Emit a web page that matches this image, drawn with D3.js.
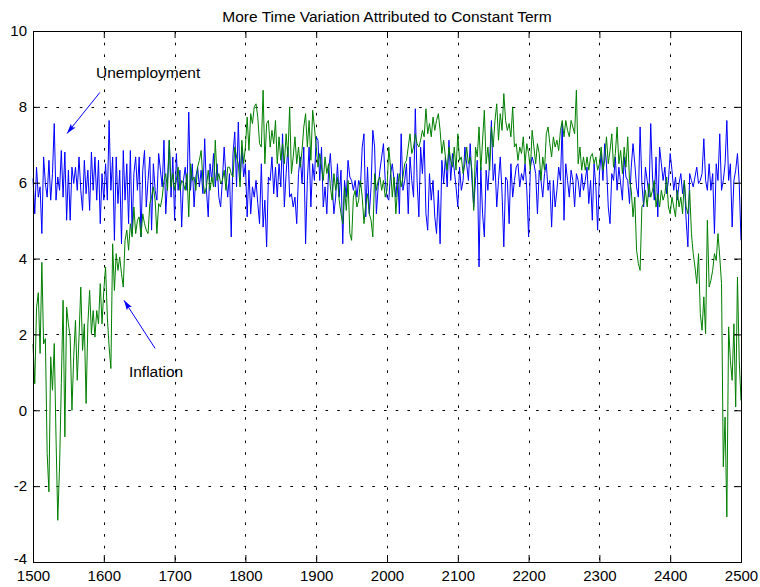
<!DOCTYPE html>
<html><head><meta charset="utf-8">
<script src="https://cdn.jsdelivr.net/npm/d3@7"></script>
<style>
body{margin:0;background:#fff}
svg text{font-family:"Liberation Sans",Arial,Helvetica,sans-serif}
</style>
</head><body>
<svg id="chart" width="760" height="587"></svg>
<script>
// ---- data (one value every 2.5 years starting at 1500) ----
const startYear = 1500;
const stepYears = 2.5;
const unemployment = [
  6.11,5.18,6.41,5.62,5.89,4.66,6.68,5.98,5.62,6.59,
  5.54,6.24,7.56,5.54,6.15,5.80,6.85,5.62,6.81,5.01,
  6.33,5.01,6.41,5.98,6.41,5.80,6.68,5.80,5.27,6.59,
  5.71,6.33,5.27,6.81,5.80,6.68,5.54,6.59,4.92,6.24,
  5.54,6.50,5.54,7.64,5.80,6.68,4.48,6.68,5.45,6.33,
  4.39,6.85,5.54,6.50,4.92,6.85,4.66,6.24,6.68,5.80,
  6.68,4.57,6.33,6.85,5.36,6.06,6.68,4.75,6.50,5.80,
  5.54,6.77,6.33,5.89,7.12,5.18,6.06,7.12,5.62,6.68,
  5.01,6.77,5.80,6.33,4.83,6.06,6.41,5.80,7.86,5.80,
  6.50,5.36,6.15,6.41,5.89,6.33,5.71,7.16,5.80,5.10,
  6.50,6.06,6.77,5.89,6.50,5.62,5.36,6.06,6.94,6.15,
  5.62,6.24,4.57,6.77,7.34,5.89,7.60,6.06,6.94,6.15,
  6.50,5.10,6.33,5.18,5.89,5.62,6.06,5.45,4.92,6.50,
  4.83,5.54,4.31,6.15,6.06,6.68,5.71,6.41,5.62,6.50,
  5.89,7.29,5.36,6.24,6.94,5.62,5.71,5.36,5.62,4.92,
  6.24,6.68,5.98,6.94,4.39,6.06,6.94,5.36,6.50,6.06,
  7.21,7.12,6.06,6.94,5.36,5.89,5.18,6.33,6.77,5.98,
  5.18,5.62,6.50,5.62,6.33,4.39,6.06,5.62,6.59,6.15,
  6.06,5.80,6.06,5.62,6.06,5.89,6.94,7.29,5.10,6.41,
  5.18,5.89,7.38,6.94,5.18,5.89,6.33,6.68,7.03,6.06,
  5.62,5.54,6.24,6.50,6.06,5.62,6.24,5.18,7.29,5.80,
  6.06,6.50,5.18,6.68,6.06,5.62,7.95,6.06,5.10,6.94,
  6.24,7.12,5.18,4.75,6.24,5.54,6.06,5.10,4.66,5.80,
  4.39,6.59,5.98,6.68,5.89,7.12,6.06,6.77,6.33,5.89,
  5.36,6.41,5.80,6.06,6.94,6.50,6.06,7.03,6.06,5.36,
  6.06,6.59,3.78,6.41,5.18,4.57,6.33,5.80,6.59,7.64,
  6.06,6.50,5.36,6.06,6.68,5.71,4.31,6.15,6.06,4.92,
  6.50,5.62,6.06,6.41,6.50,5.89,6.24,6.06,6.50,5.80,
  4.57,6.41,6.68,6.50,6.24,5.18,6.33,6.06,5.62,6.24,
  6.50,5.80,6.06,4.83,6.06,5.36,5.80,6.41,6.06,7.56,
  5.01,6.50,6.06,5.62,6.33,6.06,5.36,6.24,6.06,5.62,
  6.24,5.80,6.06,6.41,5.45,6.06,5.01,6.50,5.89,4.75,
  6.24,6.77,6.06,7.03,6.50,5.36,4.92,6.24,6.06,6.68,
  5.80,6.41,5.98,5.54,6.68,6.15,6.06,5.45,6.41,7.03,
  6.50,5.89,5.62,7.47,5.98,5.36,6.41,6.06,5.62,7.56,
  6.15,5.54,6.68,5.10,6.94,6.50,6.06,6.41,5.71,6.06,
  6.77,6.33,5.80,6.15,5.54,5.98,6.24,5.71,6.06,5.01,
  4.31,6.24,6.06,5.89,6.15,6.41,5.98,6.06,6.24,7.16,
  6.06,5.80,6.50,5.80,6.24,4.66,6.50,6.06,7.29,5.80,
  6.06,6.50,7.64,6.06,6.50,4.83,6.06,6.33,6.77,5.98,
  4.48
];
const inflation = [
  1.75,0.7,2.7,3.1,1.5,3.9,1.75,1.89,-1.14,-2.15,
  1.41,0.53,1.76,-0.7,-2.9,-1.49,0.7,2.9,-0.7,2.72,
  2.28,1.93,0.0,1.41,2.37,0.79,1.93,3.25,1.58,2.28,
  0.18,2.28,3.16,2.02,2.63,1.93,2.63,2.28,3.34,2.28,
  3.16,3.78,2.46,1.67,1.1,4.39,3.16,4.13,3.69,4.04,
  3.60,3.25,4.48,4.75,4.22,4.92,4.57,5.36,4.66,5.01,
  5.1,4.57,5.18,4.92,4.75,4.66,5.45,5.62,5.89,5.54,
  4.66,5.45,5.36,5.62,6.06,6.24,5.80,7.12,5.89,6.24,
  5.80,6.06,6.41,5.80,6.06,5.98,5.80,6.24,5.10,6.50,
  6.06,6.15,5.80,6.41,6.59,6.85,6.06,5.71,5.89,6.33,
  5.80,6.15,5.89,7.12,6.06,6.24,5.98,6.06,6.33,5.80,
  6.41,6.41,6.24,6.15,6.94,6.68,6.50,5.89,7.12,6.50,
  6.94,7.73,6.85,7.82,7.56,8.0,8.08,7.73,7.03,6.94,
  8.44,6.50,7.56,7.64,6.94,7.38,7.03,7.64,6.50,7.21,
  6.59,7.03,6.50,7.29,6.68,8.0,6.24,6.68,7.21,6.50,
  6.94,6.41,6.85,7.47,7.82,6.94,7.64,6.59,7.91,7.47,
  6.94,6.41,6.77,6.41,6.06,6.68,6.24,6.50,5.89,5.54,
  6.24,5.80,6.15,5.54,5.18,4.92,5.89,5.27,6.06,4.66,
  4.48,5.62,5.80,5.36,5.54,6.06,5.62,4.92,5.45,5.71,
  5.18,5.01,4.57,6.24,5.80,6.06,6.15,5.80,6.06,5.62,
  5.80,6.94,6.41,5.62,6.15,5.18,5.89,6.24,5.89,6.15,
  6.50,6.59,6.94,7.29,6.77,6.94,7.29,7.03,6.94,7.12,
  7.38,7.21,7.95,7.29,7.56,7.21,7.73,7.38,7.64,7.82,
  7.38,6.77,7.12,6.68,6.33,6.94,6.59,6.41,6.94,6.33,
  7.29,6.59,6.68,6.24,6.50,6.94,6.50,6.68,6.33,5.27,
  6.94,6.68,7.47,6.33,7.12,7.91,6.50,6.94,6.33,7.47,
  6.94,7.64,8.08,7.12,7.82,7.38,8.35,7.64,7.38,7.56,
  7.21,8.0,6.94,7.03,6.59,6.94,6.77,7.21,6.50,7.03,
  6.77,6.33,7.38,6.94,6.50,7.03,6.77,6.06,6.68,6.33,
  7.29,7.47,7.03,6.68,7.21,6.94,7.12,6.85,7.38,7.64,
  7.21,7.64,7.38,7.21,7.64,7.47,7.29,8.44,6.50,6.94,
  6.33,6.68,6.33,6.68,6.33,6.68,6.77,6.50,6.68,6.33,
  6.50,6.94,6.33,6.59,7.21,6.50,6.85,7.29,6.41,6.77,
  7.47,6.50,6.85,6.24,6.94,6.41,7.21,6.06,5.80,5.10,
  5.62,4.22,3.87,3.69,5.36,5.45,5.80,5.36,5.98,5.62,
  5.80,6.06,5.36,5.71,5.36,5.80,5.54,5.71,6.15,5.36,
  5.18,5.62,5.36,5.10,5.80,5.36,5.62,5.18,6.06,5.36,
  5.18,5.80,4.66,4.13,3.78,3.34,4.13,2.55,2.11,2.99,
  2.02,5.01,3.25,3.43,3.69,4.13,3.95,4.66,4.04,3.34,
  -1.49,-0.18,-2.81,2.20,1.32,0.79,2.28,0.09,3.51,1.32,
  0.26
];
const xTicks = [1500,1600,1700,1800,1900,2000,2100,2200,2300,2400,2500];
const yTicks = [-4,-2,0,2,4,6,8,10];
const xDomain = [1500, 2500];
const yDomain = [-4, 10];
const titleText = "More Time Variation Attributed to Constant Term";
const seriesNames = ["Unemployment", "Inflation"];

// annotation anchors in data units: label position, arrow tail, arrow head
const notes = [
  {text: seriesNames[0], at: [1589, 8.75], from: [1594.5, 8.38], to: [1548, 7.30]},
  {text: seriesNames[1], at: [1635.5, 0.87], from: [1672.5, 1.63], to: [1628.5, 2.90]}
];

// ---- layout ----
const W = 760, H = 587;
const M = {left: 33, right: 19, top: 31, bottom: 25};
const iw = W - M.left - M.right, ih = H - M.top - M.bottom;
const FS = 15;

const svg = d3.select("#chart");
svg.append("rect").attr("width", W).attr("height", H).attr("fill", "#fff");

const x = d3.scaleLinear().domain(xDomain).range([M.left, M.left + iw]);
const y = d3.scaleLinear().domain(yDomain).range([M.top + ih, M.top]);

// grid
const grid = svg.append("g").attr("stroke", "#000").attr("stroke-width", 1)
  .attr("stroke-dasharray", "2.6,9.1");
grid.selectAll("line.v").data(xTicks.slice(1, -1)).join("line")
  .attr("x1", d => Math.round(x(d)) + 0.5).attr("x2", d => Math.round(x(d)) + 0.5)
  .attr("y1", M.top).attr("y2", M.top + ih);
grid.selectAll("line.h").data(yTicks.slice(1, -1)).join("line")
  .attr("y1", d => Math.round(y(d)) + 0.5).attr("y2", d => Math.round(y(d)) + 0.5)
  .attr("x1", M.left).attr("x2", M.left + iw);

// series
const line = d3.line()
  .x((d, i) => x(startYear + i * stepYears))
  .y(d => y(d));
svg.append("path").datum(unemployment).attr("d", line)
  .attr("fill", "none").attr("stroke", "#0000ff").attr("stroke-width", 1);
svg.append("path").datum(inflation).attr("d", line)
  .attr("fill", "none").attr("stroke", "#008000").attr("stroke-width", 1);

// axes (ticks inside, on all four sides)
const tick = 7;
function styleAxis(g) {
  g.select(".domain").remove();
  g.selectAll(".tick line").attr("stroke", "#000");
  g.selectAll(".tick text").attr("fill", "#000").attr("font-size", FS)
    .attr("font-family", '"Liberation Sans",Arial,sans-serif');
}
svg.append("g").attr("transform", `translate(0,${M.top + ih})`)
  .call(d3.axisBottom(x).tickValues(xTicks).tickSizeInner(-tick).tickSizeOuter(0)
    .tickPadding(8).tickFormat(d => String(d)))
  .call(styleAxis);
svg.append("g").attr("transform", `translate(0,${M.top})`)
  .call(d3.axisTop(x).tickValues(xTicks).tickSizeInner(-tick).tickSizeOuter(0).tickFormat(""))
  .call(styleAxis);
const yAxisG = svg.append("g").attr("transform", `translate(${M.left},0)`)
  .call(d3.axisLeft(y).tickValues(yTicks).tickSizeInner(-tick).tickSizeOuter(0)
    .tickPadding(6).tickFormat(d => String(d)))
  .call(styleAxis);
yAxisG.selectAll(".tick text").filter(d => d === yDomain[0]).attr("dy", "0.1em");
svg.append("g").attr("transform", `translate(${M.left + iw},0)`)
  .call(d3.axisRight(y).tickValues(yTicks).tickSizeInner(-tick).tickSizeOuter(0).tickFormat(""))
  .call(styleAxis);

// box
svg.append("rect")
  .attr("x", M.left + 0.5).attr("y", M.top + 0.5)
  .attr("width", iw).attr("height", ih)
  .attr("fill", "none").attr("stroke", "#000").attr("stroke-width", 1);

// title
svg.append("text").attr("x", M.left + iw / 2).attr("y", 21.5)
  .attr("text-anchor", "middle").attr("font-size", 15.5).attr("fill", "#000")
  .text(titleText);

// annotations
const defs = svg.append("defs");
defs.append("marker").attr("id", "ah").attr("viewBox", "0 0 10 6")
  .attr("refX", 10).attr("refY", 3).attr("markerWidth", 10).attr("markerHeight", 6)
  .attr("markerUnits", "userSpaceOnUse").attr("orient", "auto")
  .append("path").attr("d", "M0,0 L10,3 L0,6 L2,3 Z").attr("fill", "#0000ff");

notes.forEach(n => {
  svg.append("line")
    .attr("x1", x(n.from[0])).attr("y1", y(n.from[1]))
    .attr("x2", x(n.to[0])).attr("y2", y(n.to[1]))
    .attr("stroke", "#0000ff").attr("stroke-width", 1)
    .attr("marker-end", "url(#ah)");
  svg.append("text").attr("x", x(n.at[0])).attr("y", y(n.at[1]))
    .attr("font-size", 15.5).attr("fill", "#000").text(n.text);
});
</script>
</body></html>
